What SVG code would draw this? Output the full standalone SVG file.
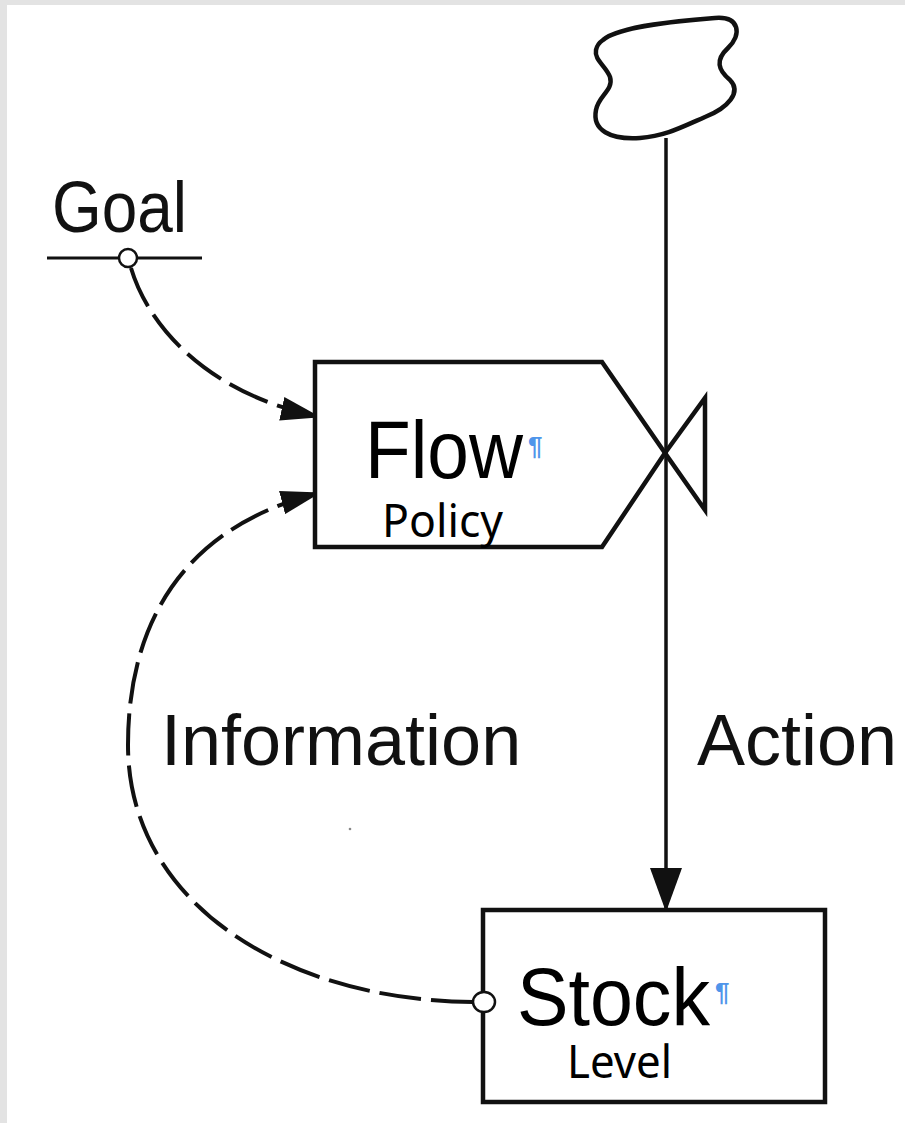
<svg xmlns="http://www.w3.org/2000/svg" width="905" height="1123" viewBox="0 0 905 1123">
  <style>
    .outline { fill: #fff; stroke: #111; stroke-width: 4.5; stroke-linejoin: miter; }
    .solid { fill: none; stroke: #111; stroke-width: 3.5; }
    .info { fill: none; stroke: #111; stroke-width: 4; stroke-dasharray: 42 10; }
    .tap { fill: #fff; stroke: #111; stroke-width: 2.5; }
    .label { font-family: "Liberation Sans", Arial, sans-serif; font-size: 72px; fill: #111; }
    .big { font-family: "Liberation Sans", Arial, sans-serif; font-size: 82px; fill: #000; }
    .sub { font-family: "Noto Sans", "Liberation Sans", sans-serif; font-size: 46px; fill: #000; }
    .mark { font-family: "Liberation Sans", Arial, sans-serif; font-size: 26px; font-weight: bold; fill: #4f95ea; }
  </style>
  <defs>
    <marker id="head" viewBox="0 0 40 24" refX="34" refY="12" markerWidth="40" markerHeight="24" markerUnits="userSpaceOnUse" orient="auto">
      <path d="M0,0 L40,12 L0,24 Z" fill="#111"/>
    </marker>
    <marker id="headAction" viewBox="0 0 44 32" refX="40" refY="16" markerWidth="44" markerHeight="32" markerUnits="userSpaceOnUse" orient="auto">
      <path d="M0,0 L44,16 L0,32 Z" fill="#111"/>
    </marker>
  </defs>

  <!-- page -->
  <rect x="0" y="0" width="905" height="1123" fill="#fff"/>
  <rect x="0" y="0" width="905" height="5" fill="#e3e3e3"/>
  <rect x="0" y="0" width="7" height="1123" fill="#e3e3e3"/>
  <circle cx="350" cy="829" r="1.3" fill="#888"/>

  <!-- connectors -->
  <g id="connectors">
    <path class="solid" d="M666,138 L666,908" marker-end="url(#headAction)"/>
    <path class="info" d="M131,268 C148,325 205,392 315,416" marker-end="url(#head)"/>
    <path class="info" d="M473,1002 C280,1000 128,900 128,745 C128,610 195,525 315,494" marker-end="url(#head)"/>
  </g>

  <!-- source cloud -->
  <g id="cloud">
    <path class="outline" d="M603,40 C620,25 690,20 715,18 C740,16 742,35 728,48 C715,60 718,70 730,80 C742,92 728,108 705,117 C680,128 665,136 640,138 C610,140 592,130 596,110 C598,96 614,90 610,77 C606,66 594,60 596,50 C597,45 600,42 603,40 Z"/>
  </g>

  <!-- goal -->
  <g id="goal">
    <text class="label" x="52" y="232" textLength="135" lengthAdjust="spacingAndGlyphs">Goal</text>
    <line x1="47" y1="258" x2="202" y2="258" stroke="#111" stroke-width="3"/>
    <circle class="tap" cx="128" cy="258" r="9"/>
  </g>

  <!-- flow / policy with valve -->
  <g id="flow">
    <polygon class="outline" points="315,362 602,362 665,453 602,547 315,547"/>
    <polygon class="outline" points="665,453 705,398 705,510" style="fill:none"/>
    <text class="big" x="365" y="478" textLength="158" lengthAdjust="spacingAndGlyphs">Flow</text>
    <text class="mark" x="528" y="455">¶</text>
    <text class="sub" x="382" y="537" textLength="121" lengthAdjust="spacingAndGlyphs">Policy</text>
  </g>

  <!-- stock / level -->
  <g id="stock">
    <rect class="outline" x="483" y="910" width="342" height="192"/>
    <text class="big" x="517" y="1025" textLength="193" lengthAdjust="spacingAndGlyphs">Stock</text>
    <text class="mark" x="715" y="1001">¶</text>
    <text class="sub" x="567" y="1078" textLength="105" lengthAdjust="spacingAndGlyphs">Level</text>
    <ellipse class="tap" cx="484" cy="1002" rx="11" ry="10"/>
  </g>

  <!-- link labels -->
  <g id="labels">
    <text class="label" x="161" y="765">Information</text>
    <text class="label" x="697" y="765">Action</text>
  </g>
</svg>
